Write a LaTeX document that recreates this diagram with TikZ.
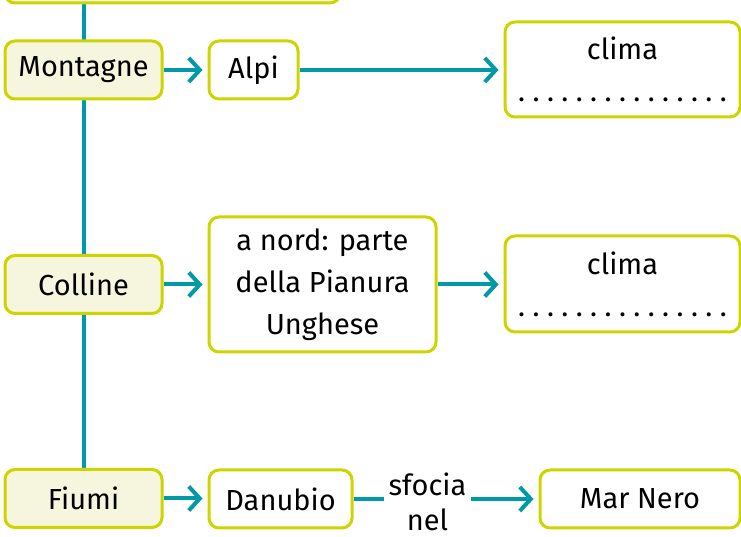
\documentclass[tikz,border=0pt]{standalone}
\usepackage{fontspec}
\setmainfont{Fira Sans}
\usetikzlibrary{arrows.meta,backgrounds}
\definecolor{verdelime}{RGB}{205,212,0}
\definecolor{crema}{RGB}{245,246,221}
\definecolor{petrolio}{RGB}{0,153,168}
\newcommand{\puntini}{\foreach \i in {1,...,15}{\makebox[14.4pt]{.}}}

\begin{document}
\begin{tikzpicture}[x=1pt,y=1pt,
	font=\fontsize{29}{42}\selectfont,
	casella/.style={draw=verdelime, line width=3pt, rounded corners=10pt, fill=white, align=center, inner sep=0pt},
	titolo/.style={casella, fill=crema, minimum width=157pt, minimum height=58pt},
	freccia/.style={petrolio, line width=4pt, shorten >=5pt, -{Straight Barb[length=11pt,width=24pt]}},
	linea/.style={petrolio, line width=4pt}]
	\def\hb{58}
	
	\useasboundingbox (0,0) rectangle (741,537);
	\clip (0,0) rectangle (741,537);
	
	% Colonna di sinistra
	\node[titolo, minimum width=335pt, minimum height=60pt] (regione) at (172.5,564) {};
	\node[titolo] (montagne) at (83.5,467) {Montagne};
	\node[titolo] (colline) at (83.5,252.5) {Colline};
	\node[titolo] (fiumi) at (83.5,38.5) {Fiumi};
	
	% Caselle
	\node[casella, minimum width=89pt, minimum height=\hb pt] (alpi) at (253.5,467) {Alpi};
	\node[casella, minimum width=235pt, minimum height=95pt] (clima1) at (622.5,467.5) {clima\\\puntini};
	\node[casella, minimum width=227pt, minimum height=135pt] (nord) at (322.5,252.5) {a nord: parte\\della Pianura\\Unghese};
	\node[casella, minimum width=235pt, minimum height=96pt] (clima2) at (622.5,253) {clima\\\puntini};
	\node[casella, minimum width=143pt, minimum height=\hb pt] (danubio) at (280.5,38) {Danubio};
	\node[casella, minimum width=200pt, minimum height=\hb pt] (marnero) at (640,38) {Mar Nero};
	\node[align=center, inner sep=4pt, font=\fontsize{29}{35}\selectfont] (sfocia) at (427.5,35) {sfocia\\nel};
	
	% Collegamenti
	\begin{scope}[on background layer]
		\draw[linea] (fiumi.north |- regione.south) -- (fiumi.north); % linea verticale
	\end{scope}
	\draw[freccia] (montagne.east) -- (alpi.west);
	\draw[freccia] (alpi.east) -- (alpi.east -| clima1.west);
	\draw[freccia] (colline.east) -- (colline.east -| nord.west);
	\draw[freccia] (nord.east) -- (nord.east -| clima2.west);
	\draw[freccia] (fiumi.east) -- (fiumi.east -| danubio.west);
	\draw[linea] (danubio.east) -- (danubio.east -| sfocia.west);
	\draw[freccia] (danubio.east -| sfocia.east) -- (marnero.west);
\end{tikzpicture}
\end{document}
